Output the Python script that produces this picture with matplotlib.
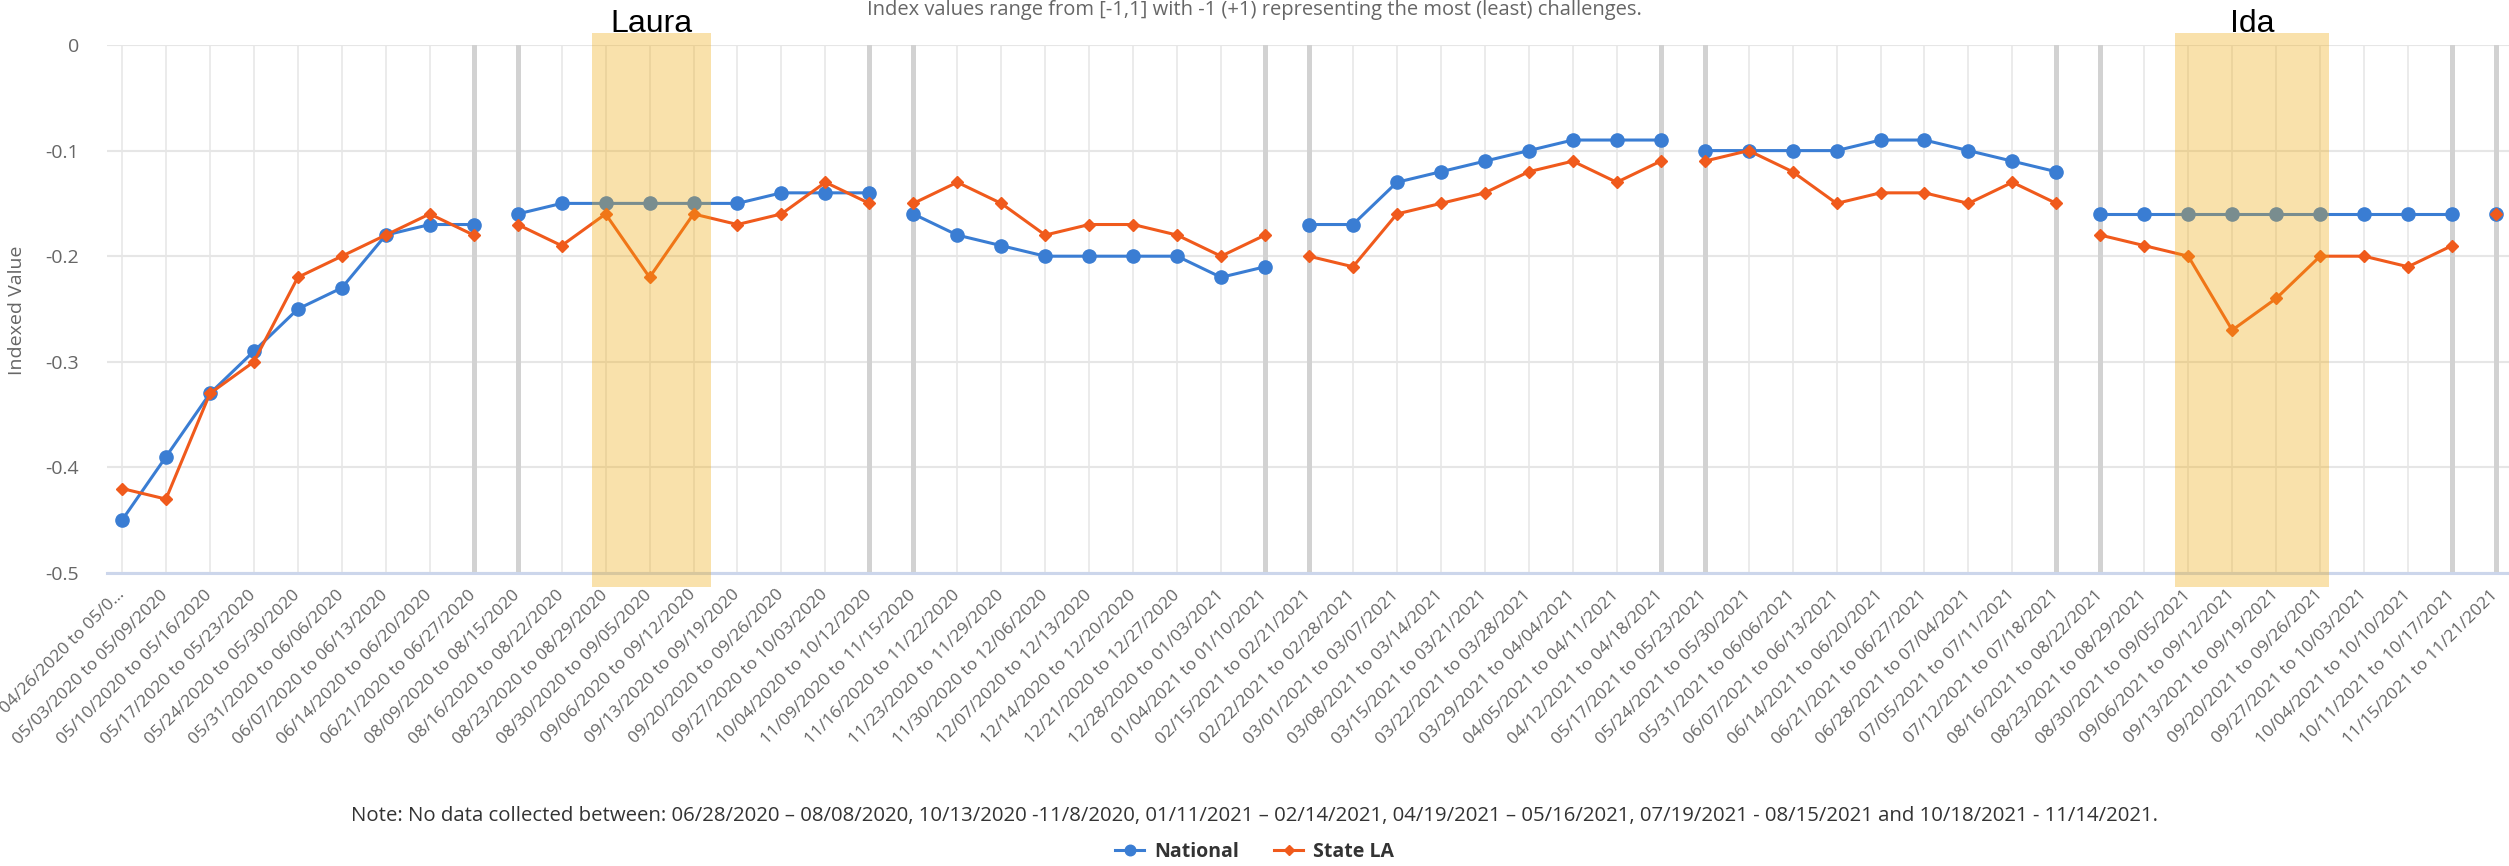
import numpy as np
import matplotlib
matplotlib.use("Agg")
import matplotlib.pyplot as plt
from matplotlib.patches import Rectangle

plt.rcParams['font.family'] = ['Open Sans', 'DejaVu Sans']

# weekly periods (x categories)
weeks = ['04/26/2020 to 05/0...', '05/03/2020 to 05/09/2020', '05/10/2020 to 05/16/2020',
         '05/17/2020 to 05/23/2020', '05/24/2020 to 05/30/2020', '05/31/2020 to 06/06/2020',
         '06/07/2020 to 06/13/2020', '06/14/2020 to 06/20/2020', '06/21/2020 to 06/27/2020',
         '08/09/2020 to 08/15/2020', '08/16/2020 to 08/22/2020', '08/23/2020 to 08/29/2020',
         '08/30/2020 to 09/05/2020', '09/06/2020 to 09/12/2020', '09/13/2020 to 09/19/2020',
         '09/20/2020 to 09/26/2020', '09/27/2020 to 10/03/2020', '10/04/2020 to 10/12/2020',
         '11/09/2020 to 11/15/2020', '11/16/2020 to 11/22/2020', '11/23/2020 to 11/29/2020',
         '11/30/2020 to 12/06/2020', '12/07/2020 to 12/13/2020', '12/14/2020 to 12/20/2020',
         '12/21/2020 to 12/27/2020', '12/28/2020 to 01/03/2021', '01/04/2021 to 01/10/2021',
         '02/15/2021 to 02/21/2021', '02/22/2021 to 02/28/2021', '03/01/2021 to 03/07/2021',
         '03/08/2021 to 03/14/2021', '03/15/2021 to 03/21/2021', '03/22/2021 to 03/28/2021',
         '03/29/2021 to 04/04/2021', '04/05/2021 to 04/11/2021', '04/12/2021 to 04/18/2021',
         '05/17/2021 to 05/23/2021', '05/24/2021 to 05/30/2021', '05/31/2021 to 06/06/2021',
         '06/07/2021 to 06/13/2021', '06/14/2021 to 06/20/2021', '06/21/2021 to 06/27/2021',
         '06/28/2021 to 07/04/2021', '07/05/2021 to 07/11/2021', '07/12/2021 to 07/18/2021',
         '08/16/2021 to 08/22/2021', '08/23/2021 to 08/29/2021', '08/30/2021 to 09/05/2021',
         '09/06/2021 to 09/12/2021', '09/13/2021 to 09/19/2021', '09/20/2021 to 09/26/2021',
         '09/27/2021 to 10/03/2021', '10/04/2021 to 10/10/2021', '10/11/2021 to 10/17/2021',
         '11/15/2021 to 11/21/2021']

national = [-0.45, -0.39, -0.33, -0.29, -0.25, -0.23, -0.18, -0.17, -0.17,
            -0.16, -0.15, -0.15, -0.15, -0.15, -0.15, -0.14, -0.14, -0.14,
            -0.16, -0.18, -0.19, -0.20, -0.20, -0.20, -0.20, -0.22, -0.21,
            -0.17, -0.17, -0.13, -0.12, -0.11, -0.10, -0.09, -0.09, -0.09,
            -0.10, -0.10, -0.10, -0.10, -0.09, -0.09, -0.10, -0.11, -0.12,
            -0.16, -0.16, -0.16, -0.16, -0.16, -0.16, -0.16, -0.16, -0.16,
            -0.16]
state_la = [-0.42, -0.43, -0.33, -0.30, -0.22, -0.20, -0.18, -0.16, -0.18,
            -0.17, -0.19, -0.16, -0.22, -0.16, -0.17, -0.16, -0.13, -0.15,
            -0.15, -0.13, -0.15, -0.18, -0.17, -0.17, -0.18, -0.20, -0.18,
            -0.20, -0.21, -0.16, -0.15, -0.14, -0.12, -0.11, -0.13, -0.11,
            -0.11, -0.10, -0.12, -0.15, -0.14, -0.14, -0.15, -0.13, -0.15,
            -0.18, -0.19, -0.20, -0.27, -0.24, -0.20, -0.20, -0.21, -0.19,
            -0.16]

# start index of each continuous collection period
segment_starts = [0, 9, 18, 27, 36, 45, 54]

# hurricanes: name, first week, last week
storms = [('Laura', 11, 13), ('Ida', 47, 50)]

note = ("Note: No data collected between: 06/28/2020 \u2013 08/08/2020, 10/13/2020 -11/8/2020, "
        "01/11/2021 \u2013 02/14/2021, 04/19/2021 \u2013 05/16/2021, 07/19/2021 - 08/15/2021 "
        "and 10/18/2021 - 11/14/2021.")
subtitle = "Index values range from [-1,1] with -1 (+1) representing the most (least) challenges."

W, H = 2509, 866
fig = plt.figure(figsize=(W / 100, H / 100), dpi=100)
ax = fig.add_axes([107 / W, (H - 573) / H, (W - 107) / W, 528 / H])

blue = '#3a7dd3'
orange = '#f05a1c'
x = np.arange(len(weeks))
nat = np.array(national)
la = np.array(state_la)

bounds = segment_starts + [len(weeks)]
for k in range(len(segment_starts)):
    s, e = bounds[k], bounds[k + 1]
    ax.plot(x[s:e], nat[s:e], color=blue, lw=2.2, marker='o', ms=9.5, zorder=3,
            label='National' if k == 0 else None)
    ax.plot(x[s:e], la[s:e], color=orange, lw=2.2, marker='D', ms=6.5, zorder=4,
            label='State LA' if k == 0 else None)

# thick lines at the edges of the gaps
for s in segment_starts[1:]:
    ax.axvline(s - 1, color='#d2d2d2', lw=3.6, zorder=1)
    ax.axvline(s, color='#d2d2d2', lw=3.6, zorder=1)

# storm bands
for name, a, b in storms:
    left = a - 0.31
    right = b + 0.40 if name == 'Laura' else b + 0.2
    ax.add_patch(Rectangle((left, -0.513), right - left, 0.5245, facecolor='#f0ab10',
                           alpha=0.35, edgecolor='none', zorder=5, clip_on=False))
    ax.text((left + right) / 2, 1.0246, name, transform=ax.get_xaxis_transform(),
            ha='center', va='baseline', fontsize=23, family='Liberation Sans', color='black')

ax.set_xlim(-0.341, 54.296)
ax.set_ylim(-0.5, 0)
ax.set_yticks([0, -0.1, -0.2, -0.3, -0.4, -0.5])
ax.set_yticklabels(['0', '-0.1', '-0.2', '-0.3', '-0.4', '-0.5'])
ax.set_xticks(x)
ax.set_xticklabels(weeks, rotation=45, ha='right', va='center', rotation_mode='anchor')
ax.tick_params(axis='x', length=0, pad=14, labelsize=12.5, labelcolor='#666666')
ax.tick_params(axis='y', length=0, pad=20, labelsize=14, labelcolor='#666666')
ax.grid(axis='x', color='#e6e6e6', lw=1.1, zorder=0)
ax.grid(axis='y', color='#e6e6e6', lw=1.5, zorder=0)
ax.set_axisbelow(True)
for side in ['top', 'right', 'left']:
    ax.spines[side].set_visible(False)
ax.spines['bottom'].set_color('#ccd6eb')
ax.spines['bottom'].set_linewidth(2.2)

fig.text(17 / W, 1 - 310 / H, 'Indexed Value', rotation=90, ha='center', va='center',
         fontsize=14, color='#666666')
fig.text(0.5, 1 - 15 / H, subtitle, ha='center', va='baseline', fontsize=14.5, color='#666666')
fig.text(0.5, 1 - 816 / H, note, ha='center', va='center', fontsize=14.7, color='#333333')

fig.legend(loc='center', bbox_to_anchor=(0.5, 1 - 852 / H), ncol=2, frameon=False,
           prop={'size': 14, 'weight': 'bold'}, handlelength=1.5, handletextpad=0.5,
           columnspacing=1.8, labelcolor='#333333', markerscale=0.8)

fig.savefig('out.png', dpi=100)
